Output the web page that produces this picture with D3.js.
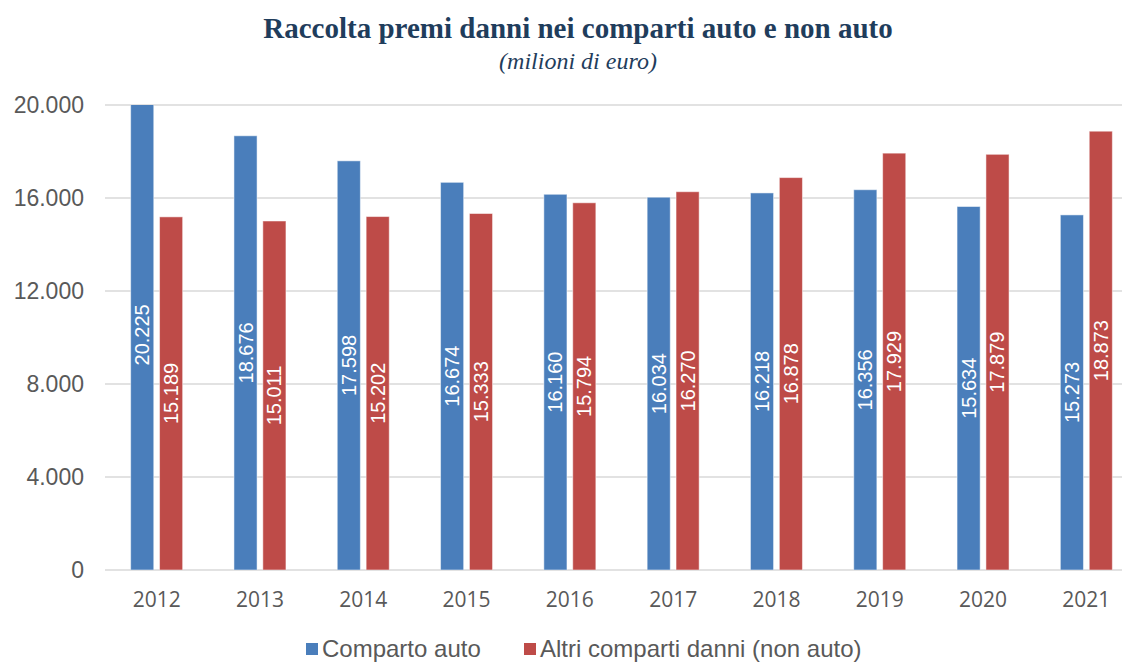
<!DOCTYPE html>
<html>
<head>
<meta charset="utf-8">
<script src="https://cdn.jsdelivr.net/npm/d3@7"></script>
<style>
  body { margin: 0; background: #fff; }
  svg { display: block; }
</style>
</head>
<body>
<script>
// Data
const years = ["2012", "2013", "2014", "2015", "2016", "2017", "2018", "2019", "2020", "2021"];
const auto = [20225, 18676, 17598, 16674, 16160, 16034, 16218, 16356, 15634, 15273];
const nonAuto = [15189, 15011, 15202, 15333, 15794, 16270, 16878, 17929, 17879, 18873];
const seriesNames = ["Comparto auto", "Altri comparti danni (non auto)"];
const seriesColors = ["#4a7ebb", "#be4b48"];
const yTicks = [0, 4000, 8000, 12000, 16000, 20000];

const width = 1122, height = 663;
const margin = { top: 105, right: -16, bottom: 93, left: 105 };

const svg = d3.select("body").append("svg")
    .attr("width", width)
    .attr("height", height);

const fmt = d3.formatLocale({ decimal: ",", thousands: ".", grouping: [3], currency: ["€", ""] }).format(",d");

// Scales
const x = d3.scaleBand()
    .domain(years)
    .range([margin.left, width - margin.right])
    .paddingInner(0)
    .paddingOuter(0);

const y = d3.scaleLinear()
    .domain([0, 20000])
    .range([height - margin.bottom, margin.top]);

const x1 = d3.scaleBand()
    .domain([0, 1])
    .range([x.bandwidth() / 2 - 26, x.bandwidth() / 2 + 26])
    .paddingInner(0.2);

// Title
svg.append("text")
    .attr("x", 578)
    .attr("y", 38)
    .attr("text-anchor", "middle")
    .attr("font-family", "'Liberation Serif', 'DejaVu Serif', serif")
    .attr("font-weight", "bold")
    .attr("font-size", 29)
    .attr("fill", "#1f3d5c")
    .text("Raccolta premi danni nei comparti auto e non auto");

svg.append("text")
    .attr("x", 578)
    .attr("y", 69)
    .attr("text-anchor", "middle")
    .attr("font-family", "'Liberation Serif', 'DejaVu Serif', serif")
    .attr("font-style", "italic")
    .attr("font-size", 24)
    .attr("fill", "#1f3d5c")
    .text("(milioni di euro)");

// Gridlines
svg.append("g")
    .selectAll("line")
    .data(yTicks)
    .enter().append("line")
    .attr("x1", margin.left)
    .attr("x2", width)
    .attr("y1", d => y(d))
    .attr("y2", d => y(d))
    .attr("stroke", "#d9d9d9")
    .attr("stroke-width", 1.5);

// Y axis labels
const yAxis = svg.append("g")
    .attr("transform", "translate(" + 84 + ",0)")
    .call(d3.axisLeft(y).tickValues(yTicks).tickSize(0).tickPadding(0).tickFormat(fmt));
yAxis.select(".domain").remove();
yAxis.selectAll("text")
    .attr("font-family", "'Liberation Sans', Arial, sans-serif")
    .attr("font-size", 23)
    .attr("fill", "#595959");

// X axis labels
const xAxis = svg.append("g")
    .attr("transform", "translate(0," + (height - margin.bottom) + ")")
    .call(d3.axisBottom(x).tickSize(0).tickPadding(22));
xAxis.select(".domain").remove();
xAxis.selectAll("text")
    .attr("font-family", "'Open Sans', 'Liberation Sans', sans-serif")
    .attr("font-size", 21)
    .attr("fill", "#595959");

// Bars
const clipId = "plotClip";
svg.append("clipPath").attr("id", clipId)
    .append("rect")
    .attr("x", 0).attr("y", y(20000))
    .attr("width", width).attr("height", y(0) - y(20000));

const rows = years.map((yr, i) => ({ year: yr, values: [auto[i], nonAuto[i]] }));

const group = svg.append("g")
    .attr("clip-path", "url(#" + clipId + ")")
    .selectAll(".year")
    .data(rows)
    .enter().append("g")
    .attr("class", "year")
    .attr("transform", d => "translate(" + x(d.year) + ",0)");

group.selectAll("rect")
    .data(d => d.values.map((v, k) => ({ v: v, k: k })))
    .enter().append("rect")
    .attr("x", d => x1(d.k))
    .attr("y", d => y(d.v))
    .attr("width", x1.bandwidth())
    .attr("height", d => y(0) - y(d.v))
    .attr("fill", d => seriesColors[d.k])
    .attr("stroke", "#ffffff")
    .attr("stroke-opacity", 0.5)
    .attr("stroke-width", 1);

// Value labels, rotated and centred in each bar
group.selectAll(".lbl")
    .data(d => d.values.map((v, k) => ({ v: v, k: k })))
    .enter().append("text")
    .attr("class", "lbl")
    .attr("transform", d => {
        const cx = x1(d.k) + x1.bandwidth() / 2;
        const cy = (y(d.v) + y(0)) / 2;
        return "translate(" + cx + "," + cy + ") rotate(-90)";
    })
    .attr("text-anchor", "middle")
    .attr("dy", "0.35em")
    .attr("font-family", "'Liberation Sans', Arial, sans-serif")
    .attr("font-size", 20)
    .attr("fill", "#ffffff")
    .text(d => fmt(d.v));

// Legend
const legend = svg.append("g")
    .attr("transform", "translate(306,638)");
const legendX = [0, 218];
const item = legend.selectAll(".item")
    .data(seriesNames)
    .enter().append("g")
    .attr("class", "item")
    .attr("transform", (d, i) => "translate(" + legendX[i] + ",0)");
item.append("rect")
    .attr("y", 5)
    .attr("width", 12)
    .attr("height", 12)
    .attr("fill", (d, i) => seriesColors[i]);
item.append("text")
    .attr("x", 16)
    .attr("y", 19)
    .attr("font-family", "'Liberation Sans', Arial, sans-serif")
    .attr("font-size", 24)
    .attr("fill", "#595959")
    .text(d => d);
</script>
</body>
</html>
